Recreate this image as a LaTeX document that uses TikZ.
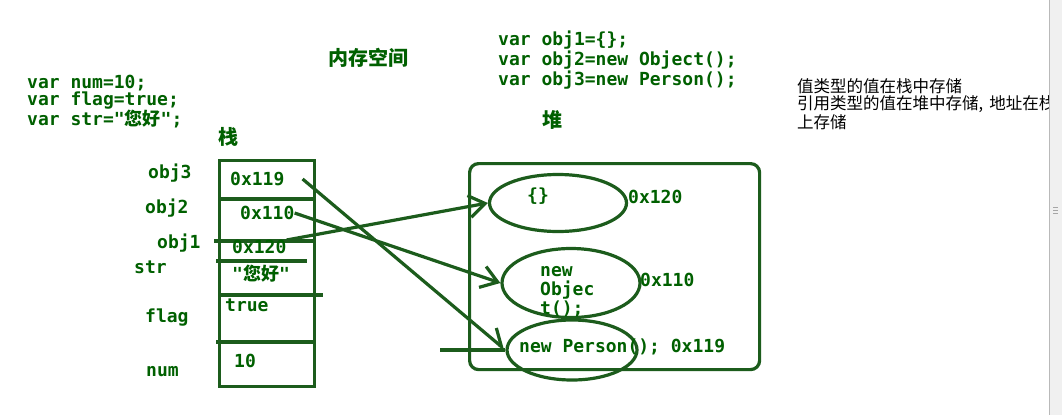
\documentclass[tikz,border=0pt]{standalone}
\usepackage{fontspec}
\usetikzlibrary{arrows.meta,
                positioning,
                shapes.geometric
            }
\newfontfamily\codefont{DejaVu Sans Mono}
\newfontfamily\cjk{Noto Sans CJK SC}
\definecolor{chalkgreen}{RGB}{28,92,28}
\definecolor{inkgreen}{RGB}{0,96,0}
\tikzset{
  code/.style={text=inkgreen, font=\codefont\bfseries\fontsize{18}{19}\selectfont, anchor=west, inner sep=0pt},
  heading/.style={text=inkgreen, font=\cjk\bfseries\fontsize{20}{22}\selectfont, inner sep=0pt},
  note/.style={text=black, font=\cjk\fontsize{16.5}{18}\selectfont, anchor=west, inner sep=0pt},
  chalk/.style={draw=chalkgreen, line width=3.2pt},
  heapobj/.style={ellipse, chalk, inner sep=0pt},
  pointer/.style={chalk, -{Straight Barb[length=16pt, width=22pt]}},
}

\begin{document}
\begin{tikzpicture}[x=1pt, y=-1pt]
                \useasboundingbox (0,0) rectangle (1062,415);
                \fill[white] (0,0) rectangle (1062,415);

                % Titles
                \node (title) [heading] at (368,58) {内存空间};
                \node (stacklabel) [heading] at (228,137) {栈};
                \node (heaplabel) [heading] at (552,120) {堆};

                % Source code
                \node (numline) [code] at (27,83) {var num=10;};
                \node (flagline) [code] at (27,101) {var flag=true;};
                \node (strline) [code] at (27,119) {var str="{\cjk\bfseries 您好}";};
                \node (obj1line) [code] at (498,40) {var obj1=\{\};};
                \node (obj2line) [code] at (498,60) {var obj2=new Object();};
                \node (obj3line) [code] at (498,80) {var obj3=new Person();};

                % Notes
                \node (note1) [note] at (797,86) {值类型的值在栈中存储};
                \node (note2) [note] at (797,104) {引用类型的值在堆中存储,\kern6pt 地址在栈};
                \node (note3) [note] at (797,122) {上存储};

                % Stack
                \node (stack) [chalk, anchor=north west, inner sep=0pt, minimum width=95pt, minimum height=226pt] at (218,159) {};
                \foreach \y/\xa/\xb in {199/218/313, 241/214/313, 261/216/307, 295/218/323, 342/216/313}
                    \draw[chalk] (\xa,\y) -- (\xb,\y);

                \node (v119) [code] at (230,179) {0x119};
                \node (v110) [code] at (240,213) {0x110};
                \node (v120) [code] at (232,247) {0x120};
                \node (vstr) [code] at (232,274) {"{\cjk\bfseries 您好}"};
                \node (vflag) [code] at (225,305) {true};
                \node (vnum) [code] at (234,361) {10};

                % Variable names
                \node (lobj3) [code] at (148,173) {obj3};
                \node (lobj2) [code] at (145,208) {obj2};
                \node (lobj1) [code] at (157,243) {obj1};
                \node (lstr) [code] at (134,267) {str};
                \node (lflag) [code] at (145,318) {flag};
                \node (lnum) [code] at (146,372) {num};

                % Heap
                \node (heap) [chalk, rounded corners=9pt, anchor=north west, inner sep=0pt, minimum width=290pt, minimum height=206pt] at (468,162) {};

                \node (objempty) [heapobj, minimum width=137pt, minimum height=57pt] at (558,203) {};
                \node (emptytext) [code, anchor=center] at (538,196) {\{\}};
                \node (addr120) [code] at (628,197) {0x120};

                \node (objobject) [heapobj, minimum width=138pt, minimum height=69pt] at (571,283) {};
                \node (objecttext) [code, align=left] at (540,292) {new\\Objec\\t();};
                \node (addr110) [code] at (640,280) {0x110};

                \node (objperson) [heapobj, minimum width=130pt, minimum height=60pt] at (572,350) {};
                \node (persontext) [code] at (519,347) {new Person(); 0x119};

                % References
                \draw[pointer] (v120.north east) -- (objempty.west);
                \draw[pointer] (v110.east) -- (objobject.west);
                \draw[chalk, -{Straight Barb[left, length=16pt, width=22pt]}] ([xshift=18pt]v119.east) -- (objperson.west);
                \coordinate (personstub) at (440,350);
                \draw[chalk] (personstub) -- (objperson.west);

                % Scrollbar
                \fill[gray!12] (1049,0) rectangle (1062,415);
                \draw[gray!55, line width=1pt] (1049.5,0) -- (1049.5,415);
                \foreach \y in {207,210,213}
                    \draw[gray!70, line width=0.6pt] (1053,\y) -- (1058,\y);
            \end{tikzpicture}
\end{document}
